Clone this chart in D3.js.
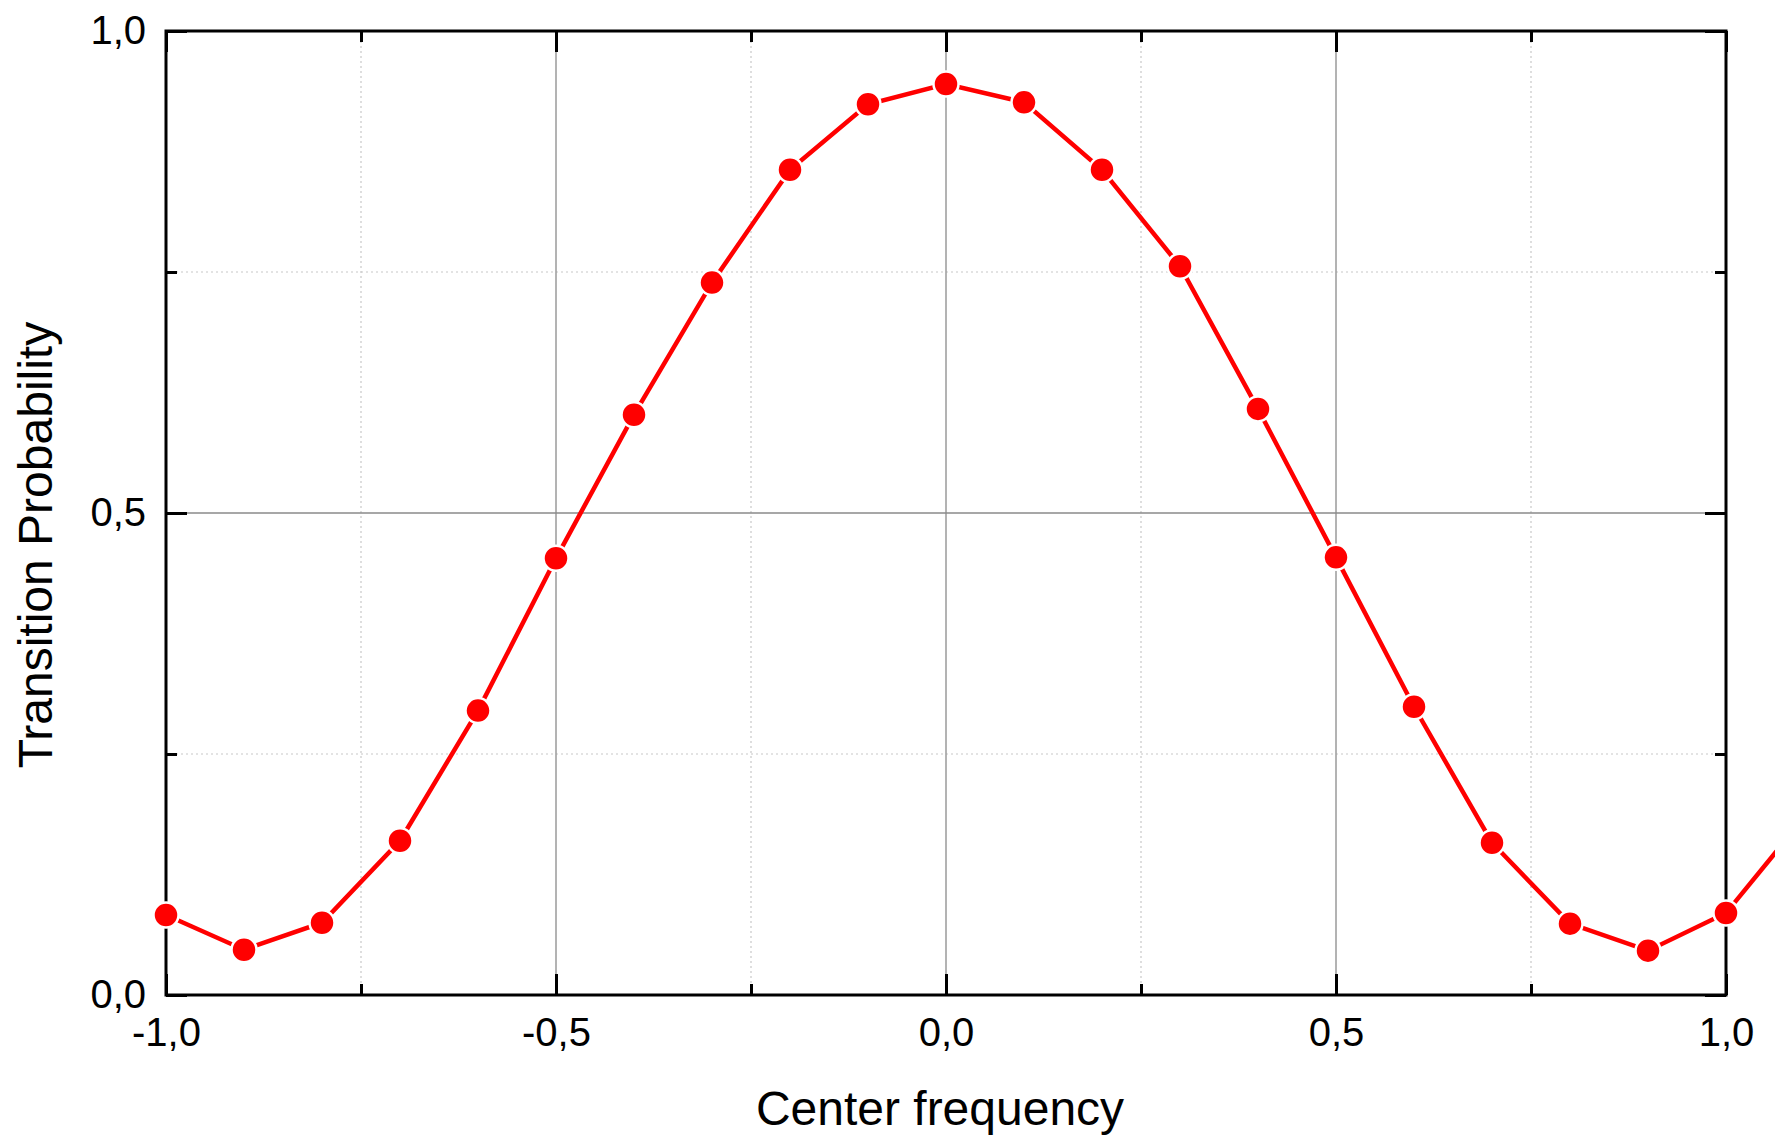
<!DOCTYPE html>
<html>
<head>
	<meta charset="utf-8">
	<script src="https://d3js.org/d3.v7.min.js"></script>
	<style>
		body { margin: 0; background: #fff; }
		svg { display: block; }
		text { font-family: "Liberation Sans", Arial, sans-serif; fill: #000; }
	</style>
</head>
<body>
	<svg width="1775" height="1138"></svg>
	<script>
		// center frequency (last point lies past the right frame and gets cut by the page edge)
		let freq = [-1.0, -0.9, -0.8, -0.7, -0.6, -0.5, -0.4, -0.3, -0.2, -0.1, 0.0,
			0.1, 0.2, 0.3, 0.4, 0.5, 0.6, 0.7, 0.8, 0.9, 1.0, 1.1];
		let prob = [0.083, 0.047, 0.075, 0.160, 0.295, 0.453, 0.602, 0.739, 0.856, 0.924, 0.945,
			0.926, 0.856, 0.756, 0.608, 0.454, 0.299, 0.158, 0.074, 0.046, 0.085, 0.184];

		let xMajor = [-1.0, -0.5, 0.0, 0.5, 1.0];
		let xMinor = [-0.75, -0.25, 0.25, 0.75];
		let yMajor = [0.0, 0.5, 1.0];
		let yMinor = [0.25, 0.75];

		const data = freq.map((f, i) => ({ f: f, p: prob[i] }));

		const svg = d3.select("svg"),
			margin = {top: 31, right: 49, bottom: 143, left: 166},
			width = +svg.attr("width") - margin.left - margin.right,
			height = +svg.attr("height") - margin.top - margin.bottom,
			g = svg.append("g").attr("transform", `translate(${margin.left},${margin.top})`);

		const x = d3.scaleLinear().domain([-1, 1]).range([0, width]);
		const y = d3.scaleLinear().domain([0, 1]).range([height, 0]);

		const fmt = d => d3.format(".1f")(d).replace(".", ",").replace("−", "-");

		// grid
		g.append("g").selectAll("line").data(xMinor).join("line")
			.attr("x1", d => x(d)).attr("x2", d => x(d)).attr("y1", 0).attr("y2", height)
			.attr("stroke", "#c8c8c8").attr("stroke-width", 1.2).attr("stroke-dasharray", "2,3");
		g.append("g").selectAll("line").data(yMinor).join("line")
			.attr("y1", d => y(d)).attr("y2", d => y(d)).attr("x1", 0).attr("x2", width)
			.attr("stroke", "#c8c8c8").attr("stroke-width", 1.2).attr("stroke-dasharray", "2,3");
		g.append("g").selectAll("line").data([-0.5, 0, 0.5]).join("line")
			.attr("x1", d => x(d)).attr("x2", d => x(d)).attr("y1", 0).attr("y2", height)
			.attr("stroke", "#9a9a9a").attr("stroke-width", 1.5);
		g.append("g").selectAll("line").data([0.5]).join("line")
			.attr("y1", d => y(d)).attr("y2", d => y(d)).attr("x1", 0).attr("x2", width)
			.attr("stroke", "#8a8a8a").attr("stroke-width", 1.5);

		// axes with inward ticks
		function styleAxis(sel) {
			sel.select(".domain").remove();
			sel.selectAll(".tick line").attr("stroke", "#000").attr("stroke-width", 3);
			sel.selectAll("text").style("font-size", "40px");
		}

		g.append("g").attr("transform", `translate(0,${height})`)
			.call(d3.axisBottom(x).tickValues(xMajor).tickSize(-21).tickPadding(23).tickFormat(fmt))
			.call(styleAxis);
		g.append("g").attr("transform", `translate(0,${height})`)
			.call(d3.axisBottom(x).tickValues(xMinor).tickSize(-11).tickFormat(""))
			.call(styleAxis);
		g.append("g")
			.call(d3.axisTop(x).tickValues(xMajor).tickSize(-21).tickFormat(""))
			.call(styleAxis);
		g.append("g")
			.call(d3.axisTop(x).tickValues(xMinor).tickSize(-11).tickFormat(""))
			.call(styleAxis);

		g.append("g")
			.call(d3.axisLeft(y).tickValues(yMajor).tickSize(-21).tickPadding(20).tickFormat(fmt))
			.call(styleAxis);
		g.append("g")
			.call(d3.axisLeft(y).tickValues(yMinor).tickSize(-11).tickFormat(""))
			.call(styleAxis);
		g.append("g").attr("transform", `translate(${width},0)`)
			.call(d3.axisRight(y).tickValues(yMajor).tickSize(-21).tickFormat(""))
			.call(styleAxis);
		g.append("g").attr("transform", `translate(${width},0)`)
			.call(d3.axisRight(y).tickValues(yMinor).tickSize(-11).tickFormat(""))
			.call(styleAxis);

		// frame
		g.append("rect")
			.attr("x", 0).attr("y", 0).attr("width", width).attr("height", height)
			.attr("fill", "none").attr("stroke", "#000").attr("stroke-width", 3);

		// line + markers
		g.append("path")
			.datum(data)
			.attr("fill", "none")
			.attr("stroke", "#ff0000")
			.attr("stroke-width", 4.5)
			.attr("d", d3.line().x(d => x(d.f)).y(d => y(d.p)));

		g.selectAll(".point")
			.data(data)
			.join("circle")
			.attr("class", "point")
			.attr("cx", d => x(d.f))
			.attr("cy", d => y(d.p))
			.attr("r", 12.5)
			.attr("fill", "#ff0000")
			.attr("stroke", "#fff")
			.attr("stroke-width", 2.5);

		// axis titles
		svg.append("text")
			.attr("x", 940).attr("y", 1125)
			.attr("text-anchor", "middle")
			.style("font-size", "48px")
			.text("Center frequency");

		svg.append("text")
			.attr("transform", "translate(52,545) rotate(-90)")
			.attr("text-anchor", "middle")
			.style("font-size", "48px")
			.text("Transition Probability");
	</script>
</body>
</html>
